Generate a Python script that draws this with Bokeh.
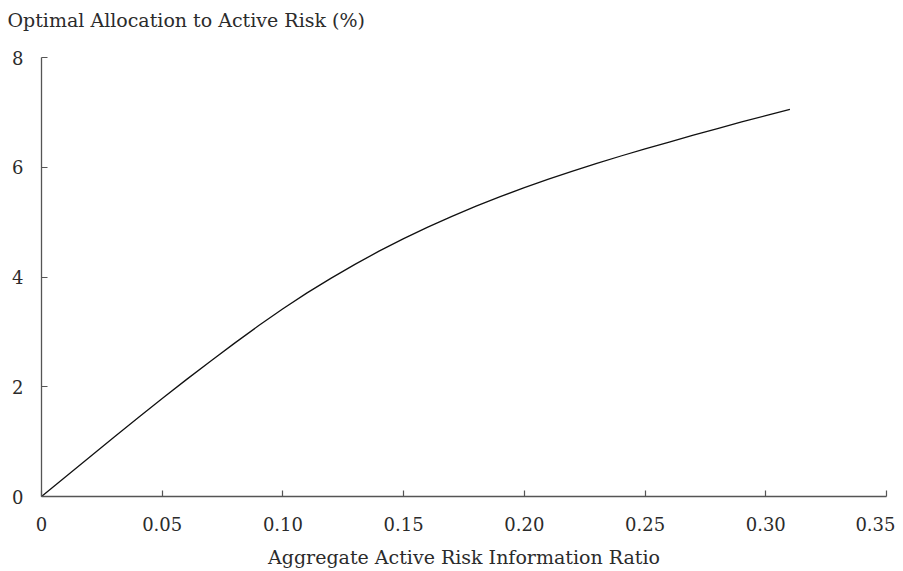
from bokeh.plotting import figure
from bokeh.models import FixedTicker, Range1d, Title
from bokeh.embed import file_html
from bokeh.resources import INLINE

# Data
info_ratio = [0.00, 0.01, 0.02, 0.03, 0.04, 0.05, 0.06, 0.07, 0.08, 0.09,
              0.10, 0.11, 0.12, 0.13, 0.14, 0.15, 0.16, 0.17, 0.18, 0.19,
              0.20, 0.21, 0.22, 0.23, 0.24, 0.25, 0.26, 0.27, 0.28, 0.29,
              0.30, 0.31]
allocation = [0.000, 0.360, 0.720, 1.080, 1.435, 1.785, 2.130, 2.465, 2.795, 3.115,
              3.420, 3.710, 3.980, 4.235, 4.475, 4.700, 4.910, 5.105, 5.290, 5.465,
              5.630, 5.785, 5.930, 6.070, 6.205, 6.335, 6.460, 6.585, 6.705, 6.825,
              6.940, 7.055]
x_ticks = [0, 0.05, 0.10, 0.15, 0.20, 0.25, 0.30, 0.35]
x_tick_labels = ["0", "0.05", "0.10", "0.15", "0.20", "0.25", "0.30", "0.35"]
y_ticks = [0, 2, 4, 6, 8]
y_title = "Optimal Allocation to Active Risk (%)"
x_title = "Aggregate Active Risk Information Ratio"

FONT = "DejaVu Serif"
TXT = "#2b2b2b"
AX = "#555555"

p = figure(width=895, height=571, output_backend="svg", toolbar_location=None,
           x_range=Range1d(0, 0.35), y_range=Range1d(0, 8),
           min_border_left=41, min_border_right=9, min_border_top=57,
           min_border_bottom=75)
p.outline_line_color = None
p.xgrid.visible = False
p.ygrid.visible = False

spacer = Title(text=" ", text_font_size="18px", standoff=0)
p.add_layout(spacer, "above")
t = Title(text=y_title, align="left", offset=-34, text_font=FONT,
          text_font_size="19px", text_font_style="normal", text_color=TXT)
p.add_layout(t, "above")

p.line(info_ratio, allocation, line_color="#111111", line_width=1.3)

p.xaxis.ticker = FixedTicker(ticks=x_ticks)
p.xaxis.major_label_overrides = {tk: lb for tk, lb in zip(x_ticks, x_tick_labels)}
p.yaxis.ticker = FixedTicker(ticks=y_ticks)

for ax in (p.xaxis, p.yaxis):
    ax.axis_line_color = AX
    ax.axis_line_width = 1.3
    ax.major_tick_line_color = AX
    ax.major_tick_line_width = 1.2
    ax.major_tick_in = 6
    ax.major_tick_out = 0
    ax.minor_tick_line_color = None
    ax.major_label_text_font = FONT
    ax.major_label_text_font_size = "18px"
    ax.major_label_text_color = TXT

p.yaxis.major_label_standoff = 18
p.xaxis.major_label_standoff = 20
p.xaxis.axis_label = x_title
p.xaxis.axis_label_text_font = FONT
p.xaxis.axis_label_text_font_size = "19px"
p.xaxis.axis_label_text_font_style = "normal"
p.xaxis.axis_label_text_color = TXT
p.xaxis.axis_label_standoff = 12

open("out.html", "w").write(file_html(p, INLINE))
